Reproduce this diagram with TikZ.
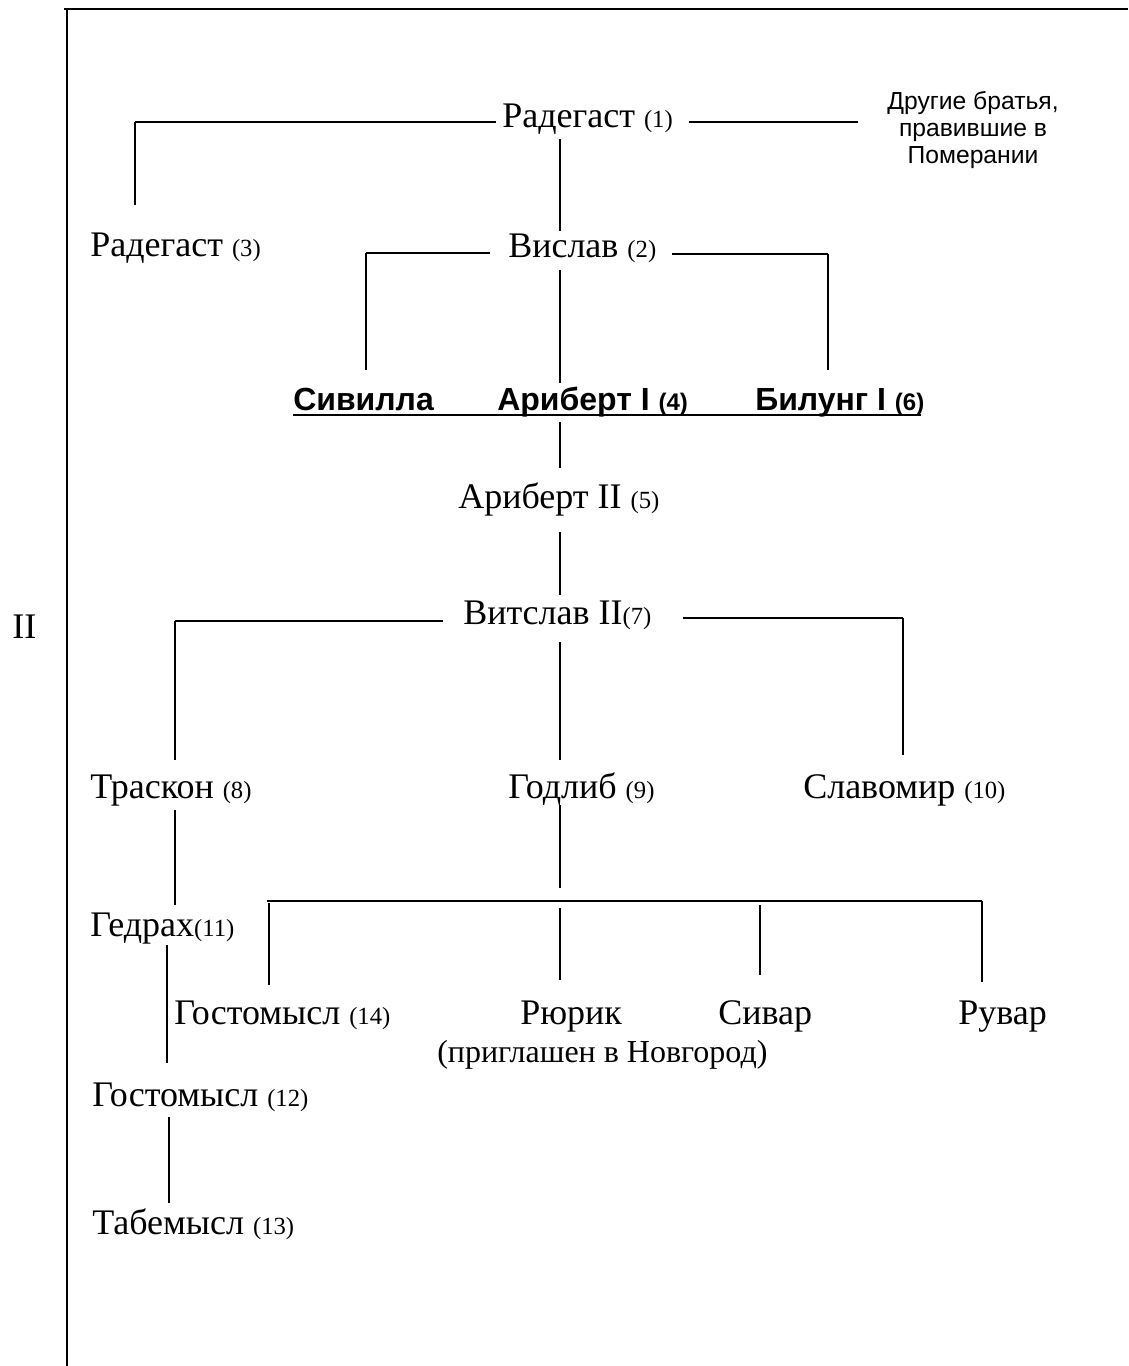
\documentclass[tikz,border=0pt]{standalone}
\usepackage{fontspec}
\setmainfont{Liberation Serif}
\newfontfamily\arialf{Liberation Sans}
\begin{document}
\begin{tikzpicture}[x=0.75pt,y=-0.75pt,
  nm/.style={anchor=base west,inner sep=0pt,font=\fontsize{27}{30}\selectfont},
  bd/.style={anchor=base west,inner sep=0pt,font=\arialf\bfseries\fontsize{24}{27}\selectfont},
  thin/.style={line width=0.8pt},
  hor/.style={line width=1.4pt},
  frame/.style={line width=1.6pt}]
\newcommand{\nr}[1]{{\fontsize{18.5}{20}\selectfont(#1)}}
\newcommand{\bnr}[1]{{\fontsize{18}{20}\selectfont(#1)}}
\useasboundingbox (0,0) rectangle (1128,1366);
% frame
\coordinate (ftl) at (64,9); \coordinate (ftr) at (1128,9);
\coordinate (fl1) at (67,9); \coordinate (fl2) at (67,1366);
\draw[frame] (ftl) -- (ftr);
\draw[frame] (fl1) -- (fl2);
\node[nm] (sec) at (12,638) {II};
% nodes
\node[nm] (r1) at (502,128) {Радегаст \nr{1}};
\node[align=center,inner sep=0pt,font=\arialf\fontsize{18.5}{20.5}\selectfont] (oth) at (973,130) {Другие братья,\\правившие в\\Померании};
\node[nm] (r3) at (90,256) {Радегаст \nr{3}};
\node[nm] (v2) at (508,257) {Вислав \nr{2}};
\node[bd] (sib) at (293,410) {Сивилла};
\node[bd] (ar1) at (497,410) {Ариберт I \bnr{4}};
\node[bd] (bil) at (755,410) {Билунг I \bnr{6}};
\node[nm] (ar2) at (458,508) {Ариберт II \nr{5}};
\node[nm] (vt7) at (463,624) {Витслав II\nr{7}};
\node[nm] (tr8) at (90,798) {Траскон \nr{8}};
\node[nm] (go9) at (508,798) {Годлиб \nr{9}};
\node[nm] (sl10) at (803,798) {Славомир \nr{10}};
\node[nm] (ge11) at (90,936) {Гедрах\nr{11}};
\node[nm] (gs14) at (174,1024) {Гостомысл \nr{14}};
\node[nm] (ru) at (520,1024) {Рюрик};
\node[nm] (si) at (718,1024) {Сивар};
\node[nm] (rv) at (958,1024) {Рувар};
\node[nm,font=\fontsize{24}{27}\selectfont] (nov) at (437,1062) {(приглашен в Новгород)};
\node[nm] (gs12) at (92,1106) {Гостомысл \nr{12}};
\node[nm] (tb13) at (92,1234) {Табемысл \nr{13}};
% connector points
\coordinate (a1) at (496,122); \coordinate (a2) at (135,122); \coordinate (a3) at (135,205);
\coordinate (b1) at (689,122); \coordinate (b2) at (858,122);
\coordinate (c1) at (560,139); \coordinate (c2) at (560,231);
\coordinate (d1) at (490,253); \coordinate (d2) at (366,253); \coordinate (d3) at (366,370);
\coordinate (e1) at (672,254); \coordinate (e2) at (828,254); \coordinate (e3) at (828,370);
\coordinate (f1) at (560,270); \coordinate (f2) at (560,383);
\coordinate (u1) at (293,415); \coordinate (u2) at (921,415);
\coordinate (g1) at (560,422); \coordinate (g2) at (560,468);
\coordinate (h1) at (560,532); \coordinate (h2) at (560,595);
\coordinate (i1) at (443,621); \coordinate (i2) at (175,621); \coordinate (i3) at (175,760);
\coordinate (j1) at (683,618); \coordinate (j2) at (903,618); \coordinate (j3) at (903,755);
\coordinate (k1) at (560,642); \coordinate (k2) at (560,760);
\coordinate (l1) at (175,810); \coordinate (l2) at (175,905);
\coordinate (m1) at (560,805); \coordinate (m2) at (560,888);
\coordinate (n1) at (267,901); \coordinate (n2) at (982,901);
\coordinate (o1) at (269,903); \coordinate (o2) at (269,985);
\coordinate (p1) at (560,908); \coordinate (p2) at (560,980);
\coordinate (q1) at (760,905); \coordinate (q2) at (760,975);
\coordinate (s1) at (982,901); \coordinate (s2) at (982,982);
\coordinate (t1) at (167,945); \coordinate (t2) at (167,1063);
\coordinate (w1) at (169,1117); \coordinate (w2) at (169,1203);
% connectors
\draw[hor] (a1) -- (a2); \draw[thin] (a2) -- (a3);
\draw[hor] (b1) -- (b2);
\draw[thin] (c1) -- (c2);
\draw[hor] (d1) -- (d2); \draw[thin] (d2) -- (d3);
\draw[hor] (e1) -- (e2); \draw[thin] (e2) -- (e3);
\draw[thin] (f1) -- (f2);
\draw[line width=2pt] (u1) -- (u2);
\draw[thin] (g1) -- (g2);
\draw[thin] (h1) -- (h2);
\draw[hor] (i1) -- (i2); \draw[thin] (i2) -- (i3);
\draw[hor] (j1) -- (j2); \draw[thin] (j2) -- (j3);
\draw[thin] (k1) -- (k2);
\draw[thin] (l1) -- (l2);
\draw[thin] (m1) -- (m2);
\draw[hor] (n1) -- (n2);
\draw[thin] (o1) -- (o2);
\draw[thin] (p1) -- (p2);
\draw[thin] (q1) -- (q2);
\draw[thin] (s1) -- (s2);
\draw[thin] (t1) -- (t2);
\draw[thin] (w1) -- (w2);
\end{tikzpicture}
\end{document}
